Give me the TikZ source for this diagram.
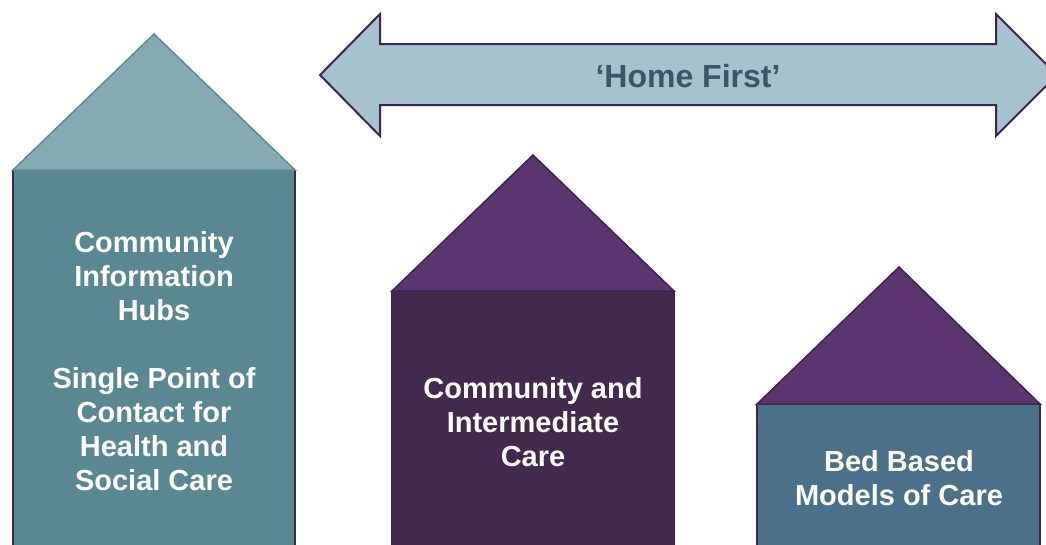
\documentclass[tikz,border=0pt]{standalone}
\usepackage{fontspec}
\setmainfont{Liberation Sans}
\definecolor{tealroof}{HTML}{84ABB4}
\definecolor{tealroofline}{HTML}{5F8A93}
\definecolor{tealbody}{HTML}{5A8892}
\definecolor{plumroof}{HTML}{5B3470}
\definecolor{plumline}{HTML}{3E2550}
\definecolor{plumbody}{HTML}{44294F}
\definecolor{slatebody}{HTML}{4A7189}
\definecolor{arrowfill}{HTML}{A6C2CF}
\definecolor{titletext}{HTML}{3B5666}
\begin{document}
\begin{tikzpicture}[x=1pt,y=-1pt,
  housetext/.style={text=white,font=\fontsize{29}{34}\selectfont\bfseries,align=center,inner sep=0pt},
  walls/.style={line width=1.5pt,draw=plumline},
  roof/.style={line width=1.5pt,line join=miter}]
\useasboundingbox (0,0) rectangle (1046,544);
\clip (0,0) rectangle (1046,544);

% double-headed banner arrow
\draw[line width=2pt,draw=plumline,fill=arrowfill,line join=miter]
  (320,75) -- (380,14) -- (380,44) -- (996,44) -- (996,14) -- (1057,75)
  -- (996,136) -- (996,105) -- (380,105) -- (380,136) -- cycle;
\node[text=titletext,font=\fontsize{32}{38}\selectfont\bfseries,inner sep=0pt] (title) at (688,76) {‘Home First’};

% left house
\draw[walls,fill=tealbody] (13,170) -- (13,560) -- (295,560) -- (295,170);
\draw[roof,draw=tealroofline,fill=tealroof] (13,170) -- (154,34) -- (295,170) -- cycle;
\node[housetext] (hubs) at (154,361)
  {Community\\Information\\Hubs\\[34pt]Single Point of\\Contact for\\Health and\\Social Care};

% middle house
\draw[walls,fill=plumbody] (392,291) -- (392,560) -- (674,560) -- (674,291);
\draw[roof,draw=plumline,fill=plumroof] (392,291) -- (533,155) -- (674,291) -- cycle;
\node[housetext] (intermediate) at (533,422) {Community and\\Intermediate\\Care};

% right house
\draw[walls,fill=slatebody] (757,404) -- (757,560) -- (1040,560) -- (1040,404);
\draw[roof,draw=plumline,fill=plumroof] (757,404) -- (899,267) -- (1040,404) -- cycle;
\node[housetext] (bedbased) at (899,478) {Bed Based\\Models of Care};
\end{tikzpicture}
\end{document}
